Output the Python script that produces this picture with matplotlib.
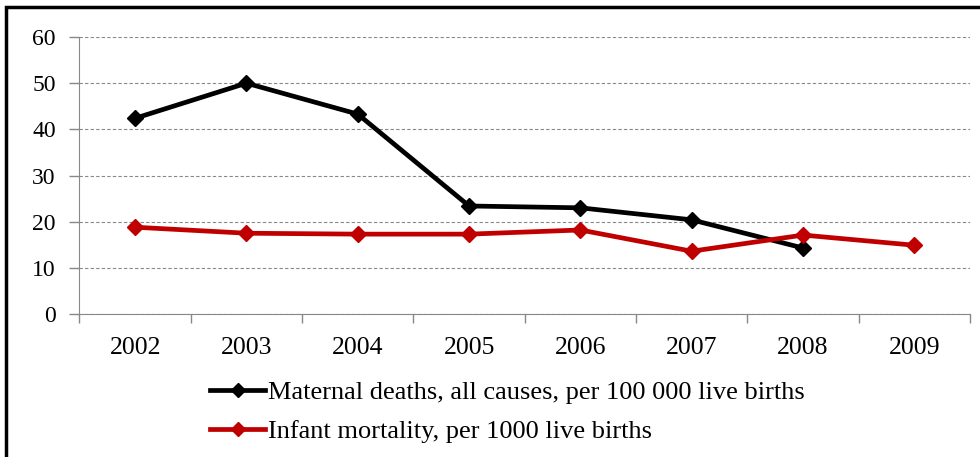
import matplotlib.pyplot as plt
from matplotlib.patches import Rectangle

years = ["2002", "2003", "2004", "2005", "2006", "2007", "2008", "2009"]
maternal = [42.4, 50.0, 43.3, 23.4, 23.0, 20.4, 14.3]
infant = [18.8, 17.5, 17.3, 17.3, 18.2, 13.6, 17.1, 14.9]

plt.rcParams['font.family'] = ['Liberation Serif', 'DejaVu Serif']

fig = plt.figure(figsize=(9.8, 4.57), dpi=100)
ax = fig.add_axes([0.0811, 0.3129, 0.9087, 0.6061])

ax.plot(range(len(maternal)), maternal, color="black", lw=3.4, marker="D",
        markersize=8.5, label="Maternal deaths, all causes, per 100 000 live births")
ax.plot(range(len(infant)), infant, color="#C00000", lw=3.4, marker="D",
        markersize=8.5, label="Infant mortality, per 1000 live births")

ax.set_xlim(-0.5, len(years) - 0.5)
ax.set_ylim(0, 60)
ax.set_yticks(range(0, 61, 10))
ax.set_xticks(range(len(years)))
ax.set_xticklabels(years)
ax.set_xticks([i - 0.5 for i in range(len(years) + 1)], minor=True)
ax.tick_params(axis="x", which="major", length=0, pad=16.5, labelsize=18.5)
ax.tick_params(axis="x", which="minor", length=6.5, color="#888888", width=1)
ax.tick_params(axis="y", length=7, color="#888888", width=1, labelsize=17, pad=10)

ax.grid(axis="y", linestyle=(0, (3, 2)), color="#888888", lw=0.8)
ax.set_axisbelow(True)
for s in ["top", "right"]:
    ax.spines[s].set_visible(False)
ax.spines["left"].set_color("#888888")
ax.spines["bottom"].set_color("#888888")

fig.legend(loc="upper left", bbox_to_anchor=(210 / 980, 0.167), frameon=False,
           fontsize=19, handlelength=2.1, handletextpad=0.1, labelspacing=0.58,
           borderaxespad=0, borderpad=0, markerscale=0.8)

# outer frame
fig.patches.append(Rectangle((6 / 980, -0.05), 1.0, 1 - 7 / 457 + 0.05,
                             transform=fig.transFigure, fill=False,
                             edgecolor="black", lw=2.5))

fig.savefig("out.png", dpi=100)
